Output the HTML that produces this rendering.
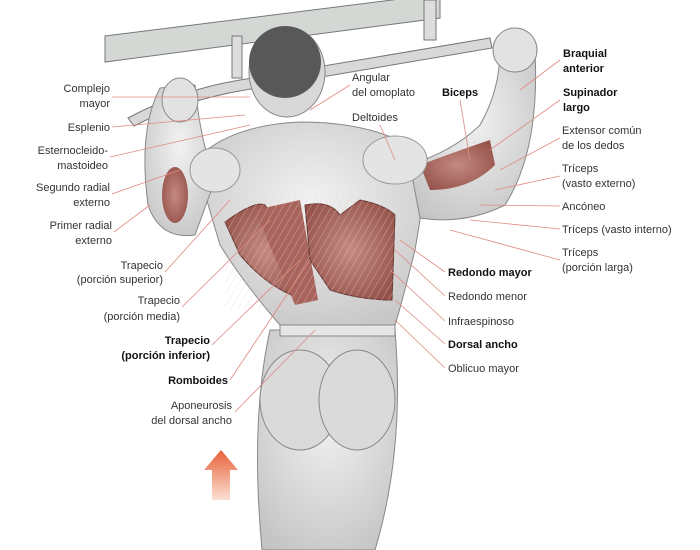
<!DOCTYPE html>
<html><head><meta charset="utf-8"><style>
html,body{margin:0;padding:0;background:#fff}
svg{display:block}
text{font-family:"Liberation Sans",sans-serif;font-size:11px;fill:#333}
.b{font-weight:bold;fill:#111}
.r{text-anchor:end}
</style></head><body>
<svg width="700" height="550" viewBox="0 0 700 550">
<defs>
<linearGradient id="ar" x1="0" y1="1" x2="0" y2="0"><stop offset="0" stop-color="#fbe0d2"/><stop offset="1" stop-color="#e8603a"/></linearGradient>
<radialGradient id="sk" cx="0.5" cy="0.4" r="0.7"><stop offset="0" stop-color="#f2f2f2"/><stop offset="1" stop-color="#c4c4c4"/></radialGradient>
<radialGradient id="mu" cx="0.5" cy="0.5" r="0.6"><stop offset="0" stop-color="#c48a82"/><stop offset="1" stop-color="#94524a"/></radialGradient>
<pattern id="st" width="6" height="6" patternUnits="userSpaceOnUse" patternTransform="rotate(30)"><line x1="0" y1="0" x2="0" y2="6" stroke="#e8d0cc" stroke-width="1.2"/></pattern>
</defs>
<!-- bars -->
<polygon points="105,36 440,-6 440,18 105,62" fill="#d4d8d4" stroke="#777"/>
<path d="M128,118 Q180,90 240,80 L490,38 L492,48 L245,90 Q185,100 134,126 Z" fill="#d8d8d8" stroke="#777"/>
<rect x="232" y="36" width="10" height="42" fill="#ddd" stroke="#777"/>
<rect x="424" y="0" width="12" height="40" fill="#ddd" stroke="#777"/>
<!-- legs/hips -->
<path d="M270,330 Q250,420 262,550 L375,550 Q405,450 395,330 Z" fill="url(#sk)" stroke="#888"/>
<ellipse cx="300" cy="400" rx="40" ry="50" fill="#dadada" stroke="#888"/>
<ellipse cx="357" cy="400" rx="38" ry="50" fill="#dadada" stroke="#888"/>
<rect x="280" y="322" width="115" height="14" fill="#e6e6e6" stroke="#888"/>
<!-- torso -->
<path d="M195,160 Q230,125 300,122 Q385,122 430,160 L415,250 Q400,310 395,325 L280,325 Q245,285 220,245 Z" fill="url(#sk)" stroke="#888"/>
<!-- arms -->
<path d="M148,205 Q138,130 160,88 L195,85 Q200,140 215,180 L195,235 Q160,240 148,205 Z" fill="url(#sk)" stroke="#888"/>
<path d="M410,165 Q455,150 480,125 Q500,90 500,50 L535,52 Q540,150 505,205 Q465,225 420,218 Z" fill="url(#sk)" stroke="#888"/>
<ellipse cx="175" cy="195" rx="13" ry="28" fill="url(#mu)"/>
<path d="M420,165 Q460,150 490,140 L495,165 Q470,190 430,190 Z" fill="url(#mu)"/>
<!-- hands -->
<ellipse cx="180" cy="100" rx="18" ry="22" fill="#e2e2e2" stroke="#888"/>
<ellipse cx="515" cy="50" rx="22" ry="22" fill="#e2e2e2" stroke="#888"/>
<!-- head -->
<ellipse cx="287" cy="72" rx="38" ry="45" fill="#d8d8d8" stroke="#888"/>
<ellipse cx="285" cy="62" rx="36" ry="36" fill="#585858"/>
<!-- back muscles -->
<path d="M225,222 Q255,200 265,205 L300,265 L305,300 Q270,290 240,255 Z" fill="url(#mu)" stroke="#6a3a36"/>
<path d="M255,210 L300,200 L318,300 L295,305 Z" fill="#a8645c"/>
<path d="M305,205 Q330,200 340,215 L360,200 Q385,205 395,215 L392,300 Q360,300 330,290 L310,260 Z" fill="url(#mu)" stroke="#6a3a36"/>
<rect x="225" y="195" width="175" height="115" fill="url(#st)" opacity="0.5"/>
<ellipse cx="215" cy="170" rx="25" ry="22" fill="#e4e4e4" stroke="#999"/>
<ellipse cx="395" cy="160" rx="32" ry="24" fill="#e4e4e4" stroke="#999"/>
<!-- arrow -->
<polygon points="221,450 238,470 230,470 230,500 212,500 212,470 204,470" fill="url(#ar)"/>
<!-- leader lines -->
<g stroke="#e08a80" stroke-width="0.8" fill="none">
<line x1="112" y1="97" x2="250" y2="97"/><line x1="112" y1="127" x2="245" y2="115"/>
<line x1="110" y1="157" x2="250" y2="125"/><line x1="112" y1="194" x2="180" y2="170"/>
<line x1="114" y1="232" x2="150" y2="205"/><line x1="165" y1="272" x2="230" y2="200"/>
<line x1="182" y1="307" x2="270" y2="220"/><line x1="212" y1="345" x2="300" y2="260"/>
<line x1="230" y1="380" x2="310" y2="260"/><line x1="235" y1="412" x2="315" y2="330"/>
<line x1="350" y1="85" x2="310" y2="110"/><line x1="380" y1="125" x2="395" y2="160"/>
<line x1="460" y1="100" x2="470" y2="160"/><line x1="560" y1="60" x2="520" y2="90"/>
<line x1="560" y1="100" x2="490" y2="150"/><line x1="560" y1="138" x2="500" y2="170"/>
<line x1="560" y1="176" x2="495" y2="190"/><line x1="560" y1="206" x2="480" y2="205"/>
<line x1="560" y1="229" x2="470" y2="220"/><line x1="560" y1="260" x2="450" y2="230"/>
<line x1="445" y1="272" x2="400" y2="240"/><line x1="445" y1="296" x2="395" y2="250"/>
<line x1="445" y1="321" x2="390" y2="270"/><line x1="445" y1="344" x2="395" y2="300"/>
<line x1="445" y1="368" x2="395" y2="320"/>
</g>
<!-- labels left -->
<text class="r" x="110" y="92">Complejo</text><text class="r" x="110" y="107">mayor</text>
<text class="r" x="110" y="131">Esplenio</text>
<text class="r" x="108" y="154">Esternocleido-</text><text class="r" x="108" y="169">mastoideo</text>
<text class="r" x="110" y="191">Segundo radial</text><text class="r" x="110" y="206">externo</text>
<text class="r" x="112" y="229">Primer radial</text><text class="r" x="112" y="244">externo</text>
<text class="r" x="163" y="269">Trapecio</text><text class="r" x="163" y="283">(porción superior)</text>
<text class="r" x="180" y="304">Trapecio</text><text class="r" x="180" y="320">(porción media)</text>
<text class="r b" x="210" y="344">Trapecio</text><text class="r b" x="210" y="359">(porción inferior)</text>
<text class="r b" x="228" y="384">Romboides</text>
<text class="r" x="232" y="409">Aponeurosis</text><text class="r" x="232" y="424">del dorsal ancho</text>
<!-- center -->
<text x="352" y="81">Angular</text><text x="352" y="96">del omoplato</text>
<text x="352" y="121">Deltoides</text>
<text class="b" x="442" y="96">Biceps</text>
<!-- right -->
<text class="b" x="563" y="57">Braquial</text><text class="b" x="563" y="72">anterior</text>
<text class="b" x="563" y="96">Supinador</text><text class="b" x="563" y="111">largo</text>
<text x="562" y="134">Extensor común</text><text x="562" y="149">de los dedos</text>
<text x="562" y="172">Tríceps</text><text x="562" y="187">(vasto externo)</text>
<text x="562" y="210">Ancóneo</text>
<text x="562" y="233">Tríceps (vasto interno)</text>
<text x="562" y="256">Tríceps</text><text x="562" y="271">(porción larga)</text>
<text class="b" x="448" y="276">Redondo mayor</text>
<text x="448" y="300">Redondo menor</text>
<text x="448" y="325">Infraespinoso</text>
<text class="b" x="448" y="348">Dorsal ancho</text>
<text x="448" y="372">Oblicuo mayor</text>
</svg>
</body></html>
